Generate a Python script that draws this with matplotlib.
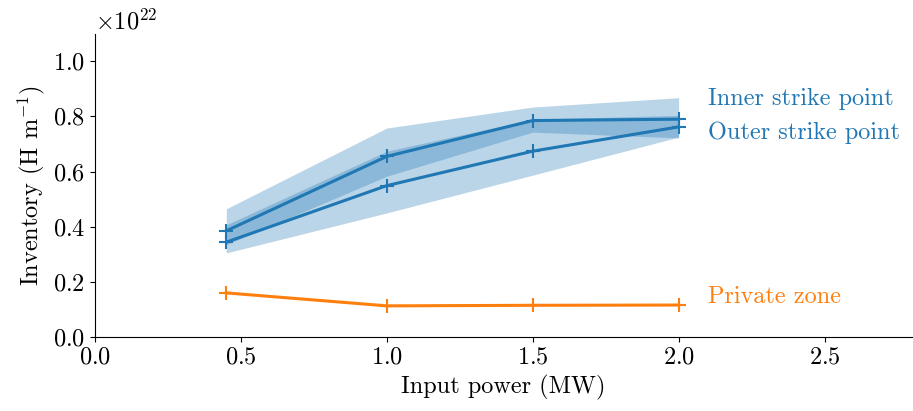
import matplotlib
matplotlib.use("Agg")
import matplotlib.pyplot as plt
import numpy as np

plt.rcParams["font.family"] = "cmr10"
plt.rcParams["mathtext.fontset"] = "cm"
plt.rcParams["axes.formatter.use_mathtext"] = True
plt.rcParams["font.size"] = 17.5

power = [0.45, 1.0, 1.5, 2.0]

inner = [0.385, 0.655, 0.785, 0.790]
inner_lo = [0.335, 0.583, 0.743, 0.722]
inner_hi = [0.407, 0.674, 0.790, 0.804]

outer = [0.344, 0.549, 0.674, 0.762]
outer_lo = [0.305, 0.450, 0.587, 0.725]
outer_hi = [0.465, 0.758, 0.834, 0.868]

private = [0.160, 0.113, 0.115, 0.116]

scale = 1e22

fig, ax = plt.subplots(figsize=(9.13, 4.11), dpi=100)
fig.subplots_adjust(left=0.104, right=0.999, bottom=0.18, top=0.918)

blue = "tab:blue"
orange = "tab:orange"

ax.fill_between(power, np.array(inner_lo) * scale, np.array(inner_hi) * scale,
                color=blue, alpha=0.3, lw=0)
ax.fill_between(power, np.array(outer_lo) * scale, np.array(outer_hi) * scale,
                color=blue, alpha=0.3, lw=0)
ax.plot(power, np.array(inner) * scale, color=blue, marker="+", ms=10, mew=1.5, lw=2.2)
ax.plot(power, np.array(outer) * scale, color=blue, marker="+", ms=10, mew=1.5, lw=2.2)
ax.plot(power, np.array(private) * scale, color=orange, marker="+", ms=10, mew=1.5, lw=2.2)

ax.text(2.1, 0.862 * scale, "Inner strike point", color=blue, va="center")
ax.text(2.1, 0.742 * scale, "Outer strike point", color=blue, va="center")
ax.text(2.1, 0.145 * scale, "Private zone", color=orange, va="center")

ax.set_xlim(0, 2.8)
ax.set_ylim(0, 1.1 * scale)
ax.set_yticks(np.array([0, 0.2, 0.4, 0.6, 0.8, 1.0]) * scale)
ax.set_xlabel("Input power (MW)")
ax.set_ylabel("Inventory (H m$^{-1}$)")
ax.spines["top"].set_visible(False)
ax.spines["right"].set_visible(False)

fig.savefig("out.png", dpi=100)
